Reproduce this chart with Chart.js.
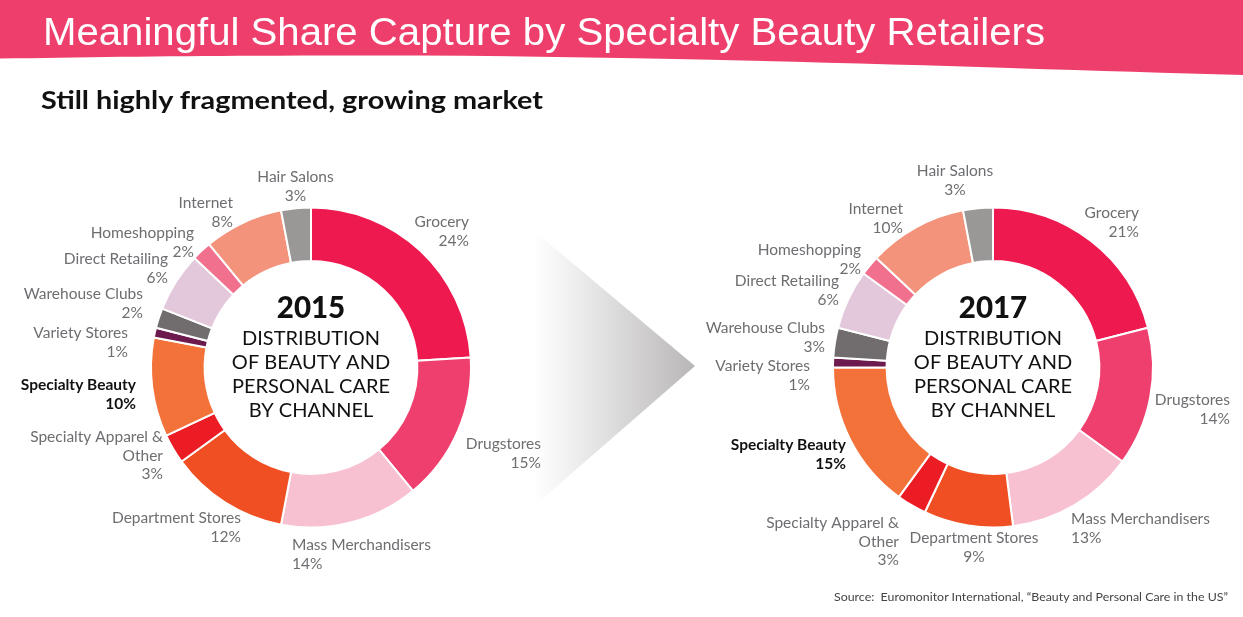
<!DOCTYPE html>
<html><head><meta charset="utf-8">
<script src="https://cdn.jsdelivr.net/npm/chart.js@4"></script>
<style>
html,body{margin:0;padding:0;background:#fff;}
#wrap{position:relative;width:1243px;height:617px;overflow:hidden;background:#fff;}
#bg,canvas{position:absolute;left:0;top:0;}
.txt{position:absolute;white-space:nowrap;transform-origin:0 0;}
#title{left:43px;top:9px;font:400 38px "Liberation Sans",Arial,sans-serif;color:#fff;line-height:46px;}
#sub{left:41px;top:84px;font:700 24px Lato,"Noto Sans",sans-serif;color:#111;line-height:32px;}
#src{left:834px;top:589px;font:400 12px Lato,"Noto Sans",sans-serif;color:#444;line-height:16px;}
</style></head>
<body>
<div id="wrap">
<svg id="bg" width="1243" height="617">
 <defs><linearGradient id="ag" x1="0" x2="1" y1="0" y2="0">
  <stop offset="0" stop-color="#ffffff"/><stop offset="0.15" stop-color="#f7f6f6"/><stop offset="1" stop-color="#b8b6b7"/></linearGradient></defs>
 <path d="M0,0 H1243 V75 C1000,68 700,57 420,55.5 C250,55 120,56.5 0,58.5 Z" fill="#EE3F6C"/>
 <path d="M533,230 L695,366 L533,507 Z" fill="url(#ag)"/>
</svg>
<canvas id="c1" width="1243" height="617"></canvas>
<canvas id="c2" width="1243" height="617"></canvas>
<div id="title" class="txt">Meaningful Share Capture by Specialty Beauty Retailers</div>
<div id="sub" class="txt">Still highly fragmented, growing market</div>
<div id="src" class="txt">Source:&nbsp; Euromonitor International, “Beauty and Personal Care in the US”</div>
</div>
<script>
// ---------- DATA ----------
const categories = ["Grocery","Drugstores","Mass Merchandisers","Department Stores","Specialty Apparel &\nOther","Specialty Beauty","Variety Stores","Warehouse Clubs","Direct Retailing","Homeshopping","Internet","Hair Salons"];
const values2015 = [24,15,14,12,3,10,1,2,6,2,8,3];
const values2017 = [21,14,13,9,3,15,1,3,6,2,10,3];
const years = ["2015","2017"];
const centerLines = ["DISTRIBUTION","OF BEAUTY AND","PERSONAL CARE","BY CHANNEL"];
const highlight = "Specialty Beauty";

// ---------- STYLE ----------
const colors = ["#EE1A4F","#EE3F6E","#F7C1D1","#F04E23","#EC1C24","#F2723A","#6D1A4F","#716C6D","#E3C8DB","#F0708E","#F4937B","#9A9797"];

// label layout: [dx, dy, align] relative to the arc centre (dy = first line middle)
const layout2015 = [[158,-145.5,"right"],[230,76.5,"right"],[-19,177.5,"left"],[-70,150.5,"right"],[-148,69.5,"right"],[-175,17.5,"right"],[-183,-34.5,"right"],[-168,-73.5,"right"],[-143,-108.5,"right"],[-117,-134.5,"right"],[-78,-164.5,"right"],[-15.5,-190.5,"center"]];
const layout2017 = [[146,-154.5,"right"],[237,32.5,"right"],[78,151.5,"left"],[-19,170.5,"center"],[-94,155.5,"right"],[-147,77.5,"right"],[-183,-1.5,"right"],[-168,-39.5,"right"],[-154,-86.5,"right"],[-132,-117.5,"right"],[-90,-158.5,"right"],[-38,-196.5,"center"]];

const LABEL_FONT = '15.5px Lato, "Noto Sans", sans-serif';
const LABEL_BOLD = '700 15.5px Lato, "Noto Sans", sans-serif';
const LINE_H = 18.7;

const labelPlugin = {
  id:'donutLabels',
  afterDraw(chart, args, opts){
    const ctx = chart.ctx;
    const meta = chart.getDatasetMeta(0);
    const arc0 = meta.data[0];
    const cx = arc0.x, cy = arc0.y;
    const vals = chart.data.datasets[0].data;
    ctx.save();
    ctx.textBaseline = 'middle';
    chart.data.labels.forEach((lab, i) => {
      const [dx, dy, align] = opts.layout[i];
      const lines = lab.split("\n").concat([vals[i] + "%"]);
      const isHi = lab === highlight;
      ctx.font = isHi ? LABEL_BOLD : LABEL_FONT;
      ctx.fillStyle = isHi ? "#111111" : "#6D6E71";
      ctx.textAlign = align;
      lines.forEach((ln, k) => ctx.fillText(ln, cx + dx, cy + dy + k * LINE_H));
    });
    // centre text
    ctx.textAlign = 'center';
    ctx.fillStyle = '#111111';
    ctx.font = '900 29.5px Lato, "Noto Sans", sans-serif';
    ctx.fillText(opts.year, cx, cy - 59);
    ctx.font = '400 20px Lato, "Noto Sans", sans-serif';
    centerLines.forEach((ln, k) => ctx.fillText(ln, cx, cy - 28.5 + k * 24));
    ctx.restore();
  }
};

function makeChart(id, vals, year, layout, pad){
  return new Chart(document.getElementById(id), {
    type:'doughnut',
    data:{ labels: categories, datasets:[{ data: vals, backgroundColor: colors, borderColor:'#ffffff', borderWidth:2 }] },
    options:{
      responsive:false, animation:false, events:[],
      cutout:'66.5%',
      layout:{ padding: pad },
      plugins:{ legend:{display:false}, tooltip:{enabled:false}, donutLabels:{ layout, year } }
    },
    plugins:[labelPlugin]
  });
}
makeChart('c1', values2015, years[0], layout2015, {left:150, right:771, top:206.5, bottom:88.5});
makeChart('c2', values2017, years[1], layout2017, {left:832, right:89, top:206.5, bottom:88.5});

// fit header texts to the reference widths
function fit(id, w){
  const el = document.getElementById(id);
  const cur = el.getBoundingClientRect().width;
  el.style.transform = 'scaleX(' + (w / cur) + ')';
}
fit('title', 1002); fit('sub', 502); fit('src', 394);
</script>
</body></html>
